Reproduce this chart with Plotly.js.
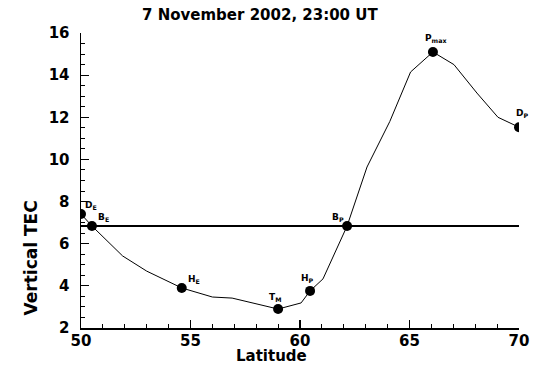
<!DOCTYPE html>
<html>
<head>
<meta charset="utf-8">
<script src="https://cdn.plot.ly/plotly-3.0.1.min.js"></script>
<style>html,body{margin:0;padding:0;background:#fff}#chart{width:534px;height:365px}</style>
</head>
<body>
<div id="chart"></div>
<script>
// TEC profile
var latitude = [50.0, 50.5, 51.9, 53.0, 54.6, 56.0, 56.9, 58.2, 59.0, 60.05, 60.46, 61.05, 62.15, 63.06, 64.1, 65.05, 66.07, 67.03, 68.08, 69.04, 70.0];
var tec      = [7.41, 6.84, 5.42, 4.70, 3.90, 3.47, 3.42, 3.10, 2.90, 3.19, 3.76, 4.33, 6.84, 9.64, 11.8, 14.15, 15.1, 14.5, 13.15, 12.0, 11.53];
// Marked feature points
var markLat    = [50.0, 50.5, 54.6, 59.0, 60.46, 62.15, 66.07, 70.0];
var markTec    = [7.41, 6.84, 3.90, 2.90, 3.76, 6.84, 15.1, 11.53];
var markLabels = ['D<sub>E</sub>', 'B<sub>E</sub>', 'H<sub>E</sub>', 'T<sub>M</sub>', 'H<sub>P</sub>', 'B<sub>P</sub>', 'P<sub>max</sub>', 'D<sub>P</sub>'];
// Background level
var bgLat = [50, 70];
var bgTec = [6.84, 6.84];
// Ticks
var xTicks = [50, 55, 60, 65, 70];
var yTicks = [2, 4, 6, 8, 10, 12, 14, 16];

var FONT = 'DejaVu Sans, Verdana, sans-serif';

var labelStyle = [
  {xanchor:'left',   xshift:2,  yshift:9},
  {xanchor:'left',   xshift:4,  yshift:9},
  {xanchor:'left',   xshift:4,  yshift:8},
  {xanchor:'center', xshift:-3, yshift:12},
  {xanchor:'center', xshift:-3, yshift:12},
  {xanchor:'right',  xshift:-1, yshift:9},
  {xanchor:'center', xshift:3,  yshift:13},
  {xanchor:'center', xshift:3,  yshift:14}
];

var annotations = markLabels.map(function(t, i){
  return {x: markLat[i], y: markTec[i], xref:'x', yref:'y', text: '<b>'+t+'</b>', showarrow:false,
    xanchor: labelStyle[i].xanchor, yanchor:'middle', xshift: labelStyle[i].xshift, yshift: labelStyle[i].yshift,
    font:{family:FONT, size:9, color:'#000'}};
});
annotations.push(
  {xref:'paper', yref:'paper', x:0.409, y:1.061, text:'<b>7 November 2002, 23:00 UT</b>', showarrow:false,
   xanchor:'center', yanchor:'middle', font:{family:FONT, size:15, color:'#000'}},
  {xref:'paper', yref:'paper', x:0.436, y:-0.096, text:'<b>Latitude</b>', showarrow:false,
   xanchor:'center', yanchor:'middle', font:{family:FONT, size:15, color:'#000'}},
  {xref:'paper', yref:'paper', x:-0.114, y:0.236, text:'<b>Vertical TEC</b>', showarrow:false, textangle:-90,
   xanchor:'center', yanchor:'middle', font:{family:FONT, size:17, color:'#000'}}
);

var traces = [
  {x: bgLat, y: bgTec, mode:'lines', line:{color:'#000', width:1.8}, hoverinfo:'skip'},
  {x: latitude, y: tec, mode:'lines', line:{color:'#000', width:1}, hoverinfo:'skip'},
  {x: markLat, y: markTec, mode:'markers', marker:{color:'#000', size:10}, hoverinfo:'skip'}
];

var tickFont = {family:FONT, size:15, color:'#000'};
var layout = {
  width:534, height:365,
  margin:{l:81, r:15, t:33, b:37},
  paper_bgcolor:'#fff', plot_bgcolor:'#fff',
  showlegend:false,
  xaxis:{range:[50,70], tickvals:xTicks, ticktext:xTicks.map(function(v){return '<b>'+v+'</b>';}),
    ticks:'inside', ticklen:8, tickwidth:1.2, tickcolor:'#000',
    minor:{dtick:1, ticks:'inside', ticklen:4, tickcolor:'#000', tickwidth:1},
    showline:true, linecolor:'#000', linewidth:1.5, showgrid:false, zeroline:false,
    tickfont:tickFont, ticklabelstandoff:-2},
  yaxis:{range:[2,16], tickvals:yTicks, ticktext:yTicks.map(function(v){return '<b>'+v+'</b>';}),
    ticks:'inside', ticklen:8, tickwidth:1.2, tickcolor:'#000',
    minor:{dtick:0.5, ticks:'inside', ticklen:4, tickcolor:'#000', tickwidth:1},
    showline:true, linecolor:'#000', linewidth:1.5, showgrid:false, zeroline:false,
    tickfont:tickFont, ticklabelstandoff:7},
  annotations: annotations
};

Plotly.newPlot('chart', traces, layout, {staticPlot:true, displayModeBar:false});
</script>
</body>
</html>
